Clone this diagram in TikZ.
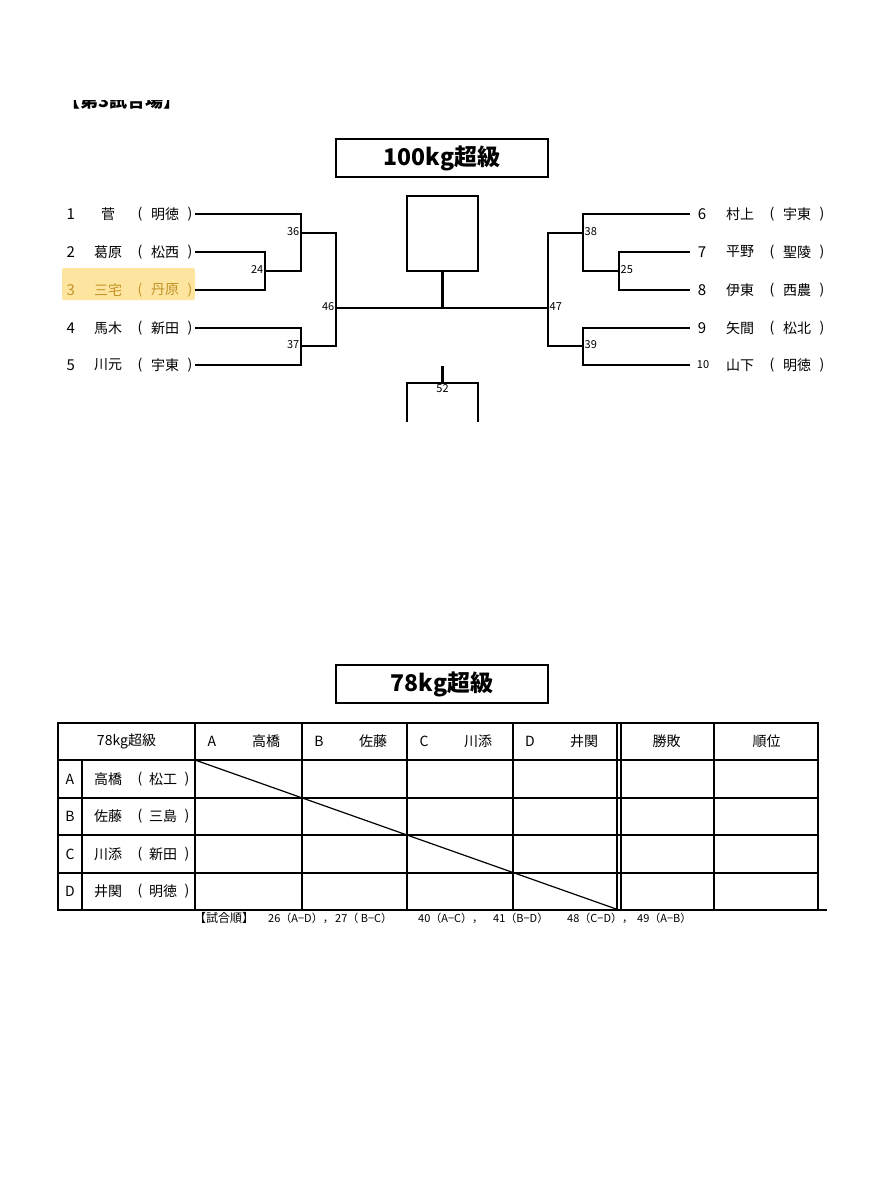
\documentclass[tikz,border=0pt]{standalone}
\usepackage{fontspec}
\setmainfont{Noto Sans CJK JP}
\usepackage{xcolor}
\usetikzlibrary{positioning}
\definecolor{markColor}{RGB}{253,229,160}
\definecolor{markText}{RGB}{196,148,40}
\begin{document}
\begin{tikzpicture}[x=1pt,y=-1pt,
  bline/.style={line width=2.4pt},
  tline/.style={line width=1.2pt},
  titlebox/.style={draw, line width=2.4pt, minimum width=212pt, minimum height=38pt, inner sep=0pt, font=\fontsize{23}{23}\selectfont\bfseries},
  who/.style={inner sep=0pt, font=\fontsize{14}{14}\selectfont},
  seed/.style={inner sep=0pt, font=\fontsize{15}{15}\selectfont},
  bout/.style={inner sep=1.5pt, font=\fontsize{11}{11}\selectfont},
  order/.style={inner sep=0pt, anchor=west, font=\fontsize{11}{11}\selectfont}]
\fill [white] (0,0) rectangle (895,1200);
\useasboundingbox (0,0) rectangle (895,1200);

% venue heading, cut at the top
\begin{scope}
\clip (55,100) rectangle (200,115);
\node [inner sep=0pt, font=\fontsize{18}{18}\selectfont\bfseries] (venue) at (122,101) {【第3試合場】};
\end{scope}

%% 100kg
\node [titlebox] (title1) at (442,158) {100kg超級};

\fill [markColor, rounded corners=2pt] (62,268) rectangle (195,300);

\foreach \n/\y/\who/\org/\c in {1/214/菅/明徳/black, 2/252/葛原/松西/black, 3/290/三宅/丹原/markText, 4/328/馬木/新田/black, 5/365/川元/宇東/black}{
  \node [seed, text=\c] (L\n) at (70.7,\y) {\n};
  \node [who, text=\c] (L\n-who) at (108,\y) {\who};
  \node [who, text=\c] (L\n-o) at (140,\y) {(};
  \node [who, text=\c] (L\n-org) at (165,\y) {\org};
  \node [who, text=\c] (L\n-c) at (190,\y) {)};
  \coordinate (p\n) at (195,\y);
}
\foreach \n/\y/\who/\org in {6/214/村上/宇東, 7/252/平野/聖陵, 8/290/伊東/西農, 9/328/矢間/松北}{
  \node [seed] (R\n) at (702,\y) {\n};
  \node [who] (R\n-who) at (740,\y) {\who};
  \node [who] (R\n-o) at (772,\y) {(};
  \node [who] (R\n-org) at (797,\y) {\org};
  \node [who] (R\n-c) at (822,\y) {)};
  \coordinate (p\n) at (690,\y);
}
\node [seed, font=\fontsize{11}{11}\selectfont] (R10) at (703,365) {10};
\node [who] (R10-who) at (740,365) {山下};
\node [who] (R10-o) at (772,365) {(};
\node [who] (R10-org) at (797,365) {明徳};
\node [who] (R10-c) at (822,365) {)};
\coordinate (p10) at (690,365);

\coordinate (m24) at (265,271);
\coordinate (m36) at (301,233);
\coordinate (m37) at (301,346);
\coordinate (m46) at (336,308);
\coordinate (m25) at (619,271);
\coordinate (m38) at (583,233);
\coordinate (m39) at (583,346);
\coordinate (m47) at (548,308);

\draw [bline] (p2) -| (m24) |- (p3);
\draw [bline] (p1) -| (m36) |- (m24);
\draw [bline] (p4) -| (m37) |- (p5);
\draw [bline] (m36) -| (m46) |- (m37);
\draw [bline] (p7) -| (m25) |- (p8);
\draw [bline] (p6) -| (m38) |- (m25);
\draw [bline] (p9) -| (m39) |- (p10);
\draw [bline] (m38) -| (m47) |- (m39);
\draw [bline] (m46) -- (m47);

\node [bout, anchor=east] (b24) at ([yshift=1pt]m24) {24};
\node [bout, anchor=east] (b36) at ([yshift=1pt]m36) {36};
\node [bout, anchor=east] (b37) at ([yshift=1pt]m37) {37};
\node [bout, anchor=east] (b46) at ([yshift=1pt]m46) {46};
\node [bout, anchor=west] (b25) at ([yshift=1pt]m25) {25};
\node [bout, anchor=west] (b38) at ([yshift=1pt]m38) {38};
\node [bout, anchor=west] (b39) at ([yshift=1pt]m39) {39};
\node [bout, anchor=west] (b47) at ([yshift=1pt]m47) {47};

\node [draw, bline, minimum width=71pt, minimum height=75pt, inner sep=0pt] (winner) at (442.5,233.5) {};
\draw [bline] (winner.south) -- (winner.south |- m46);

% third place
\coordinate (s52) at (442.5,366);
\coordinate (t52) at (442.5,383);
\coordinate (l52) at (407,422);
\coordinate (r52) at (478,422);
\draw [bline] (s52) -- (t52);
\draw [bline] (l52) |- (t52) -| (r52);
\node [bout, below] (b52) at (t52) {52};

%% 78kg
\node [titlebox] (title2) at (442,684) {78kg超級};

\draw [tline] (58,723) rectangle (818,910);
\foreach \y in {760,798,835,873}
  \draw [tline] (58,\y) -- (818,\y);
\draw [tline] (818,910) -- (827,910);
\draw [tline] (82,760) -- (82,910);
\foreach \x in {195,302,407,513,617,621,714}
  \draw [tline] (\x,723) -- (\x,910);
\draw [tline] (195,760) -- (619,910);

\node [who] (head) at (126.5,741) {78kg超級};
\foreach \k/\x/\who in {A/195/高橋, B/302/佐藤, C/407/川添, D/513/井関}{
  \node [who] (col\k) at (\x+17,741) {\k};
  \node [who] (col\k-who) at (\x+71,741) {\who};
}
\node [who] (colWin) at (666.5,741) {勝敗};
\node [who] (colRank) at (766.5,741) {順位};

\foreach \k/\y/\who/\org in {A/779/高橋/松工, B/816.5/佐藤/三島, C/854/川添/新田, D/891.5/井関/明徳}{
  \node [who] (row\k) at (70,\y) {\k};
  \node [who] (row\k-who) at (108,\y) {\who};
  \node [who] (row\k-o) at (140,\y) {(};
  \node [who] (row\k-org) at (163,\y) {\org};
  \node [who] (row\k-c) at (187,\y) {)};
}

\node [order, font=\fontsize{12}{12}\selectfont] (ord0) at (194,918) {【試合順】};
\node [order] (ord1) at (268,918) {26（A−D），};
\node [order] (ord2) at (335,918) {27（ B−C）};
\node [order] (ord3) at (418,918) {40（A−C），};
\node [order] (ord4) at (493,918) {41（B−D）};
\node [order] (ord5) at (567,918) {48（C−D），};
\node [order] (ord6) at (637,918) {49（A−B）};
\end{tikzpicture}
\end{document}
